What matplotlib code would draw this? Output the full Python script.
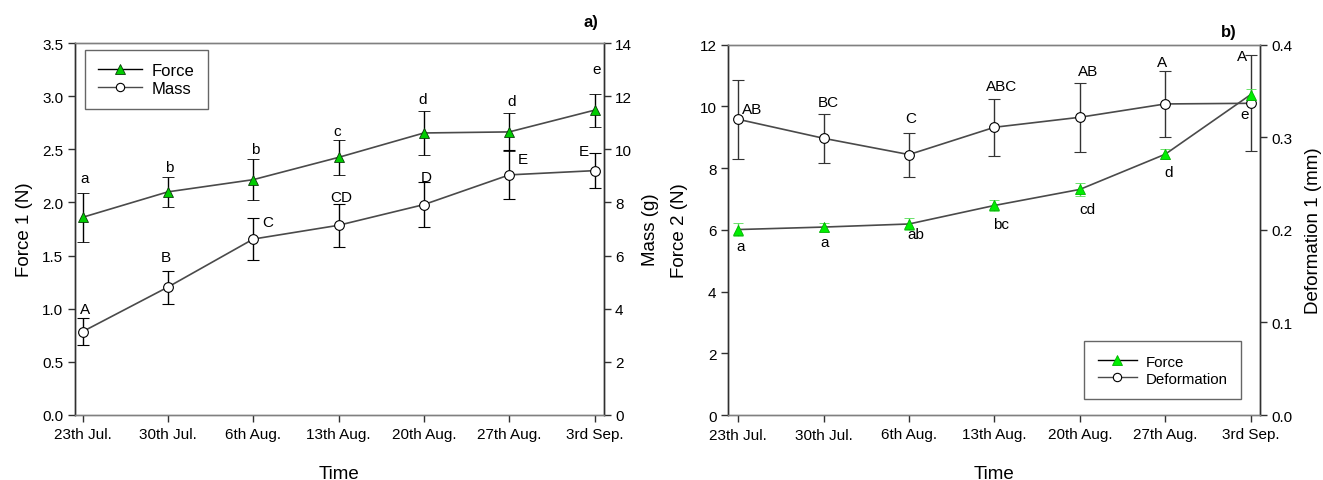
import matplotlib
matplotlib.use("Agg")
import matplotlib.pyplot as plt
import numpy as np

plt.rcParams['font.family'] = ['Liberation Sans', 'DejaVu Sans']

dates = ["23th Jul.", "30th Jul.", "6th Aug.", "13th Aug.", "20th Aug.", "27th Aug.", "3rd Sep."]

# Panel a
force1 = [1.86, 2.10, 2.215, 2.425, 2.655, 2.665, 2.87]
force1_err = [0.23, 0.14, 0.195, 0.165, 0.21, 0.18, 0.155]
force1_letters = ["a", "b", "b", "c", "d", "d", "e"]
mass = [3.13, 4.81, 6.62, 7.14, 7.92, 9.04, 9.20]
mass_err = [0.50, 0.62, 0.80, 0.80, 0.85, 0.92, 0.66]
mass_letters = ["A", "B", "C", "CD", "D", "E", "E"]

# Panel b
force2 = [6.01, 6.09, 6.19, 6.79, 7.31, 8.45, 10.38]
force2_err = [0.20, 0.13, 0.20, 0.17, 0.20, 0.17, 0.17]
force2_letters = ["a", "a", "ab", "bc", "cd", "d", "e"]
deform = [0.3194, 0.2989, 0.2813, 0.3108, 0.3216, 0.3360, 0.3367]
deform_err = [0.043, 0.0266, 0.0238, 0.031, 0.037, 0.036, 0.052]
deform_letters = ["AB", "BC", "C", "ABC", "AB", "A", "A"]

# label offsets (pixels) relative to each point: (dx, dy up)
off_f1 = [(2, 39), (1, 25), (2, 31), (-1, 26), (-1, 34), (2.5, 31), (2, 41)]
off_m = [(3, 23), (-2, 30), (15, 17), (3, 28), (2, 28), (14, 16), (-10.5, 20)]
off_f2 = [(2, -16), (1, -15), (7, -10), (7, -19), (7.6, -20), (3.4, -18), (-5.5, -19)]
off_d = [(14, 10), (5, 36), (2, 37), (7, 41), (8.5, 46), (-3, 42), (-9, 47)]

W, H = 1323, 481
fig = plt.figure(figsize=(W / 100, H / 100), dpi=100)

SP_V = '#303030'
SP_H = '#808080'
LINE = '#4a4a4a'
FS = 11
LFS = 13.5
px2pt = 72 / 100


def style(ax):
    for k, s in ax.spines.items():
        s.set_color(SP_V if k in ('left', 'right') else SP_H)
        s.set_linewidth(1.0)
    ax.tick_params(axis='y', direction='out', length=5, width=1.0, color=SP_V, labelsize=FS, pad=3)
    ax.tick_params(axis='x', direction='out', length=5, width=1.0, color=SP_V, labelsize=FS, pad=4)


def annot(ax, xs, ys, letters, offs):
    for x, y, t, (dx, dy) in zip(xs, ys, letters, offs):
        ax.annotate(t, (x, y), xytext=(dx * px2pt, dy * px2pt), textcoords='offset points',
                    ha='center', va='center', fontsize=FS, color='black')


x = np.arange(len(dates))

# ---------- Panel a ----------
ax1 = fig.add_axes([74.5 / W, 1 - 415.7 / H, (604 - 74.5) / W, (415.7 - 44.3) / H])
ax1r = ax1.twinx()
ax1.set_zorder(ax1r.get_zorder() + 1)
ax1.patch.set_visible(False)

ax1r.errorbar(x, mass, yerr=mass_err, color=LINE, ecolor='black', elinewidth=1, capsize=4,
              capthick=1, marker='o', ms=7, mfc='white', mec='black', mew=0.8, lw=1.2, zorder=3)
ax1.errorbar(x, force1, yerr=force1_err, color=LINE, ecolor='black', elinewidth=1, capsize=4,
             capthick=1, marker='^', ms=7.5, mfc='#00cc00', mec='#0a3a0a', mew=0.6, lw=1.2, zorder=3)

ax1.set_xlim(-0.094, 6.11)
ax1.set_ylim(0, 3.5)
ax1.set_yticks(np.arange(0, 3.51, 0.5))
ax1.set_yticklabels([f"{v:.1f}" for v in np.arange(0, 3.51, 0.5)])
ax1r.set_ylim(0, 14)
ax1r.set_yticks(np.arange(0, 15, 2))
ax1.set_xticks(x)
ax1.set_xticklabels(dates)
ax1.set_ylabel("Force 1 (N)", fontsize=LFS, labelpad=7)
ax1r.set_ylabel("Mass (g)", fontsize=LFS, labelpad=7)
ax1.set_xlabel("Time", fontsize=LFS, labelpad=17)
style(ax1)
style(ax1r)
annot(ax1, x, force1, force1_letters, off_f1)
annot(ax1r, x, mass, mass_letters, off_m)

h1, = ax1.plot([], [], color='black', lw=1, marker='^', ms=7.5, mfc='#00cc00', mec='#0a3a0a', mew=0.6)
h2, = ax1.plot([], [], color=LINE, lw=1, marker='o', ms=6, mfc='white', mec='black', mew=0.8)
leg = ax1.legend([h1, h2], ["Force", "Mass"], loc='upper left', bbox_to_anchor=(0.02, 0.982),
                 fontsize=12, frameon=True, fancybox=False, borderpad=0.8, handlelength=2.6,
                 labelspacing=0.15, handletextpad=0.6, borderaxespad=0)
leg.get_frame().set_edgecolor('#404040')
leg.get_frame().set_linewidth(1.0)

fig.text(591 / W, 1 - 23 / H, "a)", fontsize=12, fontweight='bold', ha='center', va='center')

# ---------- Panel b ----------
ax2 = fig.add_axes([727.7 / W, 1 - 416 / H, (1260 - 727.7) / W, (416 - 45.7) / H])
ax2r = ax2.twinx()
ax2.set_zorder(ax2r.get_zorder() + 1)
ax2.patch.set_visible(False)

ax2r.errorbar(x, deform, yerr=deform_err, color=LINE, ecolor='#333333', elinewidth=1, capsize=4,
              capthick=1, marker='o', ms=7, mfc='white', mec='black', mew=0.8, lw=1.2, zorder=3)
ax2.errorbar(x, force2, yerr=force2_err, color=LINE, ecolor='#55dd55', elinewidth=1, capsize=3.5,
             capthick=1, marker='^', ms=7.5, mfc='#00ee00', mec='#00b000', mew=0.6, lw=1.2, zorder=3)

ax2.set_xlim(-0.123, 6.11)
ax2.set_ylim(0, 12)
ax2.set_yticks(np.arange(0, 13, 2))
ax2r.set_ylim(0, 0.4)
ax2r.set_yticks([0.0, 0.1, 0.2, 0.3, 0.4])
ax2r.set_yticklabels(["0.0", "0.1", "0.2", "0.3", "0.4"])
ax2.set_xticks(x)
ax2.set_xticklabels(dates)
ax2.set_ylabel("Force 2 (N)", fontsize=LFS, labelpad=8)
ax2r.set_ylabel("Deformation 1 (mm)", fontsize=LFS, labelpad=9)
ax2.set_xlabel("Time", fontsize=LFS, labelpad=17)
style(ax2)
style(ax2r)
annot(ax2, x, force2, force2_letters, off_f2)
annot(ax2r, x, deform, deform_letters, off_d)

g1, = ax2.plot([], [], color='black', lw=1, marker='^', ms=7.5, mfc='#00ee00', mec='#00b000', mew=0.6)
g2, = ax2.plot([], [], color=LINE, lw=1, marker='o', ms=6, mfc='white', mec='black', mew=0.8)
leg2 = ax2.legend([g1, g2], ["Force", "Deformation"], loc='lower right', bbox_to_anchor=(0.965, 0.043),
                  fontsize=10.8, frameon=True, fancybox=False, borderpad=0.9, handlelength=2.6,
                  labelspacing=0.2, handletextpad=0.6, borderaxespad=0)
leg2.get_frame().set_edgecolor('#404040')
leg2.get_frame().set_linewidth(1.0)

fig.text(1228.7 / W, 1 - 32 / H, "b)", fontsize=12, fontweight='bold', ha='center', va='center')

fig.savefig("out.png", dpi=100)
